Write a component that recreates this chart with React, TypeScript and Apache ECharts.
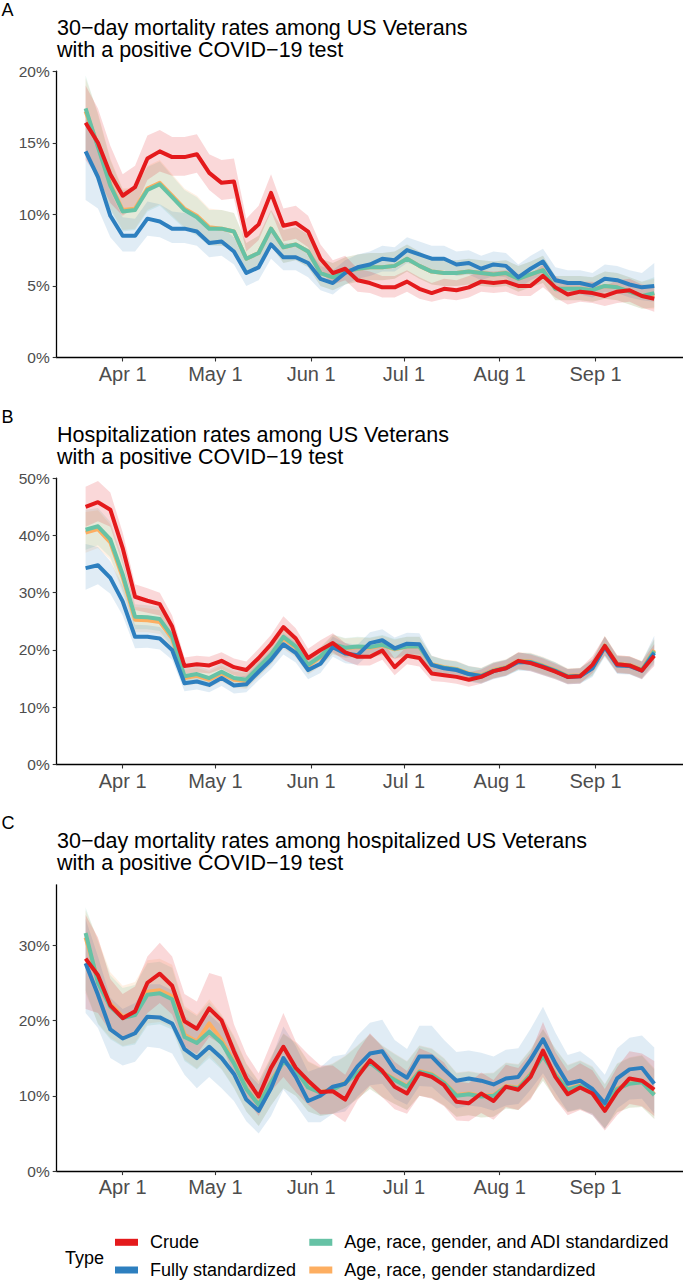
import React, { useEffect, useRef } from "react";
import * as echarts from "echarts";

// ---------- data ----------
const dates = [
  "2020-03-20", "2020-03-24", "2020-03-28", "2020-04-01", "2020-04-05", "2020-04-09", "2020-04-13", "2020-04-17",
  "2020-04-21", "2020-04-25", "2020-04-29", "2020-05-03", "2020-05-07", "2020-05-11", "2020-05-15", "2020-05-19",
  "2020-05-23", "2020-05-27", "2020-05-31", "2020-06-04", "2020-06-08", "2020-06-12", "2020-06-16", "2020-06-20",
  "2020-06-24", "2020-06-28", "2020-07-02", "2020-07-06", "2020-07-10", "2020-07-14", "2020-07-18", "2020-07-22",
  "2020-07-26", "2020-07-30", "2020-08-03", "2020-08-07", "2020-08-11", "2020-08-15", "2020-08-19", "2020-08-23",
  "2020-08-27", "2020-08-31", "2020-09-04", "2020-09-08", "2020-09-12", "2020-09-16", "2020-09-20",
];

const xTickDates = ["2020-04-01", "2020-05-01", "2020-06-01", "2020-07-01", "2020-08-01", "2020-09-01"];
const xTickLabels = ["Apr 1", "May 1", "Jun 1", "Jul 1", "Aug 1", "Sep 1"];
const yTicksA = [0, 5, 10, 15, 20];
const yTicksB = [0, 10, 20, 30, 40, 50];
const yTicksC = [0, 10, 20, 30];
const yMaxes = [20, 50, 38];

const seriesNames = [
  "Crude",
  "Fully standardized",
  "Age, race, gender, and ADI standardized",
  "Age, race, gender standardized",
];
const panelLetters = ["A", "B", "C"];
const panelTitles = [
  "30\u2212day mortality rates among US Veterans\nwith a positive COVID\u221219 test",
  "Hospitalization rates among US Veterans\nwith a positive COVID\u221219 test",
  "30\u2212day mortality rates among hospitalized US Veterans\nwith a positive COVID\u221219 test",
];
const legendTitle = "Type";

// Panel A (percent)
const aCrude = [16.4, 15.0, 12.8, 11.3, 11.9, 13.9, 14.4, 14.0, 14.0, 14.2, 12.9, 12.2, 12.3, 8.5, 9.3, 11.5, 9.2, 9.4, 8.8, 6.9, 5.9, 6.2, 5.4, 5.2, 4.9, 4.9, 5.3, 4.8, 4.5, 4.8, 4.7, 4.9, 5.3, 5.2, 5.3, 5.0, 5.0, 5.7, 4.9, 4.4, 4.6, 4.5, 4.3, 4.6, 4.7, 4.3, 4.1];
const aCrudeLo = [13.8, 12.6, 10.8, 9.9, 10.5, 12.4, 13.0, 12.7, 12.7, 12.9, 11.7, 11.0, 11.1, 7.4, 8.2, 10.2, 8.1, 8.3, 7.7, 6.0, 5.1, 5.4, 4.6, 4.5, 4.2, 4.2, 4.6, 4.1, 3.9, 4.1, 4.0, 4.2, 4.6, 4.5, 4.6, 4.3, 4.3, 4.9, 4.2, 3.7, 3.9, 3.8, 3.6, 3.8, 3.9, 3.5, 3.2];
const aCrudeHi = [19.0, 17.4, 14.8, 12.8, 13.4, 15.5, 15.9, 15.4, 15.4, 15.6, 14.2, 13.8, 13.9, 9.7, 10.6, 12.8, 10.4, 10.6, 9.9, 7.9, 6.8, 7.1, 6.2, 6.0, 5.7, 5.7, 6.1, 5.6, 5.2, 5.5, 5.4, 5.7, 6.1, 6.0, 6.1, 5.8, 5.8, 6.5, 5.7, 5.1, 5.3, 5.3, 5.0, 5.4, 5.5, 5.1, 5.0];
const aFully = [14.4, 12.6, 9.9, 8.5, 8.5, 9.7, 9.5, 9.0, 9.0, 8.8, 8.0, 8.1, 7.4, 5.9, 6.3, 7.9, 7.0, 7.0, 6.6, 5.5, 5.2, 5.9, 6.3, 6.5, 6.9, 6.8, 7.5, 7.2, 6.9, 6.9, 6.5, 6.6, 6.2, 6.5, 6.4, 5.6, 6.2, 6.7, 5.4, 5.2, 5.2, 5.0, 5.5, 5.4, 5.1, 4.9, 5.0];
const aFullyLo = [11.0, 10.4, 8.4, 7.4, 7.4, 8.5, 8.4, 8.0, 8.0, 7.8, 7.0, 7.1, 6.5, 5.0, 5.4, 6.9, 6.1, 6.1, 5.6, 4.7, 4.4, 5.1, 5.5, 5.7, 6.0, 6.0, 6.6, 6.4, 6.1, 6.1, 5.7, 5.8, 5.4, 5.7, 5.6, 4.8, 5.4, 5.8, 4.6, 4.4, 4.4, 4.2, 4.6, 4.5, 4.2, 4.0, 3.9];
const aFullyHi = [17.0, 14.6, 11.6, 9.8, 9.7, 10.9, 10.7, 10.2, 10.1, 9.9, 9.0, 9.1, 8.4, 6.9, 7.3, 8.9, 8.0, 8.0, 7.6, 6.4, 6.1, 6.8, 7.2, 7.4, 7.8, 7.7, 8.4, 8.1, 7.8, 7.8, 7.4, 7.5, 7.1, 7.4, 7.3, 6.5, 7.1, 7.6, 6.3, 6.1, 6.1, 5.9, 6.5, 6.4, 6.1, 5.9, 6.6];
const aAdi = [17.4, 14.7, 12.0, 10.2, 10.3, 11.7, 12.1, 11.2, 10.3, 9.8, 9.0, 9.0, 8.8, 6.9, 7.3, 9.0, 7.7, 7.9, 7.4, 5.9, 5.6, 6.0, 6.2, 6.3, 6.3, 6.4, 6.9, 6.4, 6.0, 5.9, 5.9, 6.0, 5.9, 5.8, 5.9, 5.5, 5.8, 6.1, 4.8, 4.8, 4.8, 4.7, 5.0, 4.9, 4.6, 4.3, 4.5];
const aAdiLo = [14.5, 12.7, 10.3, 8.8, 8.9, 10.2, 10.6, 9.8, 9.0, 8.5, 7.8, 7.8, 7.6, 5.8, 6.2, 7.8, 6.6, 6.8, 6.3, 5.0, 4.7, 5.1, 5.3, 5.4, 5.4, 5.5, 6.0, 5.5, 5.1, 5.0, 5.0, 5.1, 5.0, 4.9, 5.0, 4.6, 4.9, 5.2, 4.0, 4.0, 4.0, 3.9, 4.1, 4.0, 3.7, 3.4, 3.5];
const aAdiHi = [19.7, 17.0, 13.8, 11.7, 11.8, 13.3, 13.7, 12.7, 11.7, 11.2, 10.3, 10.3, 10.1, 8.0, 8.5, 10.3, 8.9, 9.1, 8.6, 6.9, 6.6, 7.0, 7.2, 7.3, 7.3, 7.4, 7.9, 7.4, 6.9, 6.8, 6.8, 6.9, 6.8, 6.7, 6.8, 6.4, 6.7, 7.1, 5.7, 5.7, 5.7, 5.6, 6.0, 5.9, 5.6, 5.3, 5.6];
const aArg = [17.2, 14.8, 12.1, 10.3, 10.4, 11.8, 12.2, 11.3, 10.4, 9.9, 9.1, 9.0, 8.8, 6.9, 7.3, 9.0, 7.7, 7.9, 7.4, 5.9, 5.6, 6.0, 6.2, 6.3, 6.3, 6.4, 6.9, 6.4, 6.0, 5.9, 5.9, 6.0, 5.9, 5.8, 5.9, 5.5, 5.8, 6.1, 4.8, 4.8, 4.8, 4.7, 5.0, 4.9, 4.6, 4.3, 4.4];
const aArgLo = [14.3, 12.8, 10.4, 8.9, 9.0, 10.3, 10.7, 9.9, 9.1, 8.6, 7.9, 7.8, 7.6, 5.8, 6.2, 7.8, 6.6, 6.8, 6.3, 5.0, 4.7, 5.1, 5.3, 5.4, 5.4, 5.5, 6.0, 5.5, 5.1, 5.0, 5.0, 5.1, 5.0, 4.9, 5.0, 4.6, 4.9, 5.2, 4.0, 4.0, 4.0, 3.9, 4.1, 4.0, 3.7, 3.4, 3.4];
const aArgHi = [19.5, 17.1, 13.9, 11.8, 11.9, 13.4, 13.8, 12.8, 11.8, 11.3, 10.4, 10.3, 10.1, 8.0, 8.5, 10.3, 8.9, 9.1, 8.6, 6.9, 6.6, 7.0, 7.2, 7.3, 7.3, 7.4, 7.9, 7.4, 6.9, 6.8, 6.8, 6.9, 6.8, 6.7, 6.8, 6.4, 6.7, 7.1, 5.7, 5.7, 5.7, 5.6, 6.0, 5.9, 5.6, 5.3, 5.5];

// Panel B (percent)
const bCrude = [45.0, 45.8, 44.5, 37.8, 29.3, 28.6, 28.0, 24.1, 17.2, 17.5, 17.3, 18.1, 17.0, 16.5, 18.6, 21.0, 24.0, 22.0, 18.6, 20.0, 21.2, 19.6, 18.8, 18.8, 19.9, 17.0, 19.0, 18.6, 15.9, 15.6, 15.3, 14.8, 15.3, 16.3, 16.8, 18.1, 17.7, 17.0, 16.2, 15.3, 15.4, 17.4, 20.7, 17.5, 17.3, 16.4, 19.0];
const bCrudeLo = [41.5, 42.5, 41.5, 35.0, 27.0, 26.5, 26.0, 22.3, 15.8, 16.1, 15.9, 16.7, 15.6, 15.1, 17.1, 19.4, 22.2, 20.3, 17.1, 18.4, 19.6, 18.1, 17.3, 17.3, 18.3, 15.6, 17.5, 17.1, 14.6, 14.4, 14.1, 13.6, 14.1, 15.0, 15.5, 16.7, 16.3, 15.6, 14.9, 14.0, 14.1, 16.0, 19.1, 16.0, 15.8, 14.9, 17.2];
const bCrudeHi = [48.5, 49.5, 47.5, 40.5, 31.5, 30.8, 30.0, 26.0, 18.7, 19.0, 18.8, 19.6, 18.5, 18.0, 20.2, 22.6, 25.9, 23.8, 20.2, 21.7, 22.9, 21.2, 20.4, 20.4, 21.6, 18.5, 20.6, 20.2, 17.3, 16.9, 16.6, 16.1, 16.6, 17.7, 18.2, 19.6, 19.2, 18.5, 17.6, 16.7, 16.8, 18.9, 22.4, 19.1, 18.9, 18.0, 21.0];
const bFully = [34.3, 34.8, 32.6, 28.5, 22.3, 22.3, 22.0, 20.0, 14.2, 14.5, 13.9, 15.1, 13.8, 14.0, 16.2, 18.3, 21.0, 19.5, 16.5, 17.6, 20.5, 19.4, 19.1, 21.2, 21.7, 20.3, 21.1, 21.0, 17.4, 16.8, 16.5, 15.8, 15.4, 16.3, 16.8, 17.9, 17.8, 17.1, 16.3, 15.3, 15.4, 16.8, 20.5, 17.3, 17.2, 16.4, 19.5];
const bFullyLo = [30.5, 31.5, 29.8, 26.0, 20.3, 20.4, 20.1, 18.3, 12.8, 13.1, 12.6, 13.7, 12.4, 12.6, 14.7, 16.7, 19.2, 17.8, 14.9, 16.0, 18.8, 17.7, 17.4, 19.4, 19.8, 18.5, 19.3, 19.2, 15.9, 15.4, 15.1, 14.5, 14.1, 14.9, 15.4, 16.4, 16.3, 15.6, 14.9, 14.0, 14.1, 15.3, 18.8, 15.8, 15.7, 14.9, 17.5];
const bFullyHi = [38.5, 38.0, 35.5, 31.2, 24.4, 24.3, 24.0, 21.8, 15.7, 16.0, 15.3, 16.6, 15.3, 15.5, 17.8, 20.0, 22.9, 21.3, 18.2, 19.3, 22.3, 21.2, 20.9, 23.1, 23.6, 22.2, 23.0, 22.9, 19.0, 18.3, 18.0, 17.2, 16.8, 17.8, 18.3, 19.5, 19.4, 18.7, 17.8, 16.7, 16.8, 18.4, 22.3, 18.9, 18.8, 18.0, 22.5];
const bAdi = [41.0, 41.6, 39.3, 33.2, 25.8, 25.7, 25.4, 22.4, 15.4, 15.8, 15.1, 16.2, 15.1, 14.8, 17.0, 19.2, 22.3, 20.6, 17.4, 18.9, 21.0, 20.4, 20.6, 20.5, 20.9, 20.2, 20.6, 20.6, 17.4, 16.9, 16.6, 15.8, 15.5, 16.4, 16.9, 18.0, 17.9, 17.2, 16.4, 15.4, 15.5, 16.9, 20.7, 17.5, 17.3, 16.5, 19.8];
const bAdiLo = [37.5, 38.3, 36.2, 30.5, 23.6, 23.6, 23.3, 20.5, 14.0, 14.4, 13.7, 14.8, 13.7, 13.4, 15.5, 17.6, 20.5, 18.9, 15.9, 17.3, 19.3, 18.7, 18.9, 18.8, 19.2, 18.5, 18.9, 18.9, 15.9, 15.5, 15.2, 14.5, 14.2, 15.0, 15.5, 16.5, 16.4, 15.7, 15.0, 14.1, 14.2, 15.5, 19.0, 16.0, 15.8, 15.0, 17.8];
const bAdiHi = [44.5, 44.8, 42.4, 36.0, 28.0, 27.8, 27.5, 24.3, 16.9, 17.3, 16.5, 17.7, 16.5, 16.2, 18.5, 20.8, 24.1, 22.3, 18.9, 20.5, 22.7, 22.1, 22.3, 22.2, 22.6, 21.9, 22.3, 22.3, 18.9, 18.3, 18.0, 17.1, 16.8, 17.8, 18.3, 19.5, 19.4, 18.7, 17.8, 16.7, 16.8, 18.3, 22.4, 19.0, 18.8, 18.0, 21.8];
const bArg = [40.5, 41.1, 38.8, 32.7, 25.3, 25.2, 24.9, 22.0, 15.1, 15.5, 14.8, 15.9, 14.8, 14.6, 16.8, 19.0, 22.0, 20.4, 17.2, 18.7, 20.9, 20.3, 20.5, 20.4, 20.8, 20.1, 20.6, 20.6, 17.5, 17.0, 16.7, 15.9, 15.6, 16.5, 17.0, 18.1, 18.0, 17.3, 16.5, 15.5, 15.6, 17.0, 20.8, 17.6, 17.4, 16.6, 20.0];
const bArgLo = [37.0, 37.8, 35.7, 30.0, 23.1, 23.1, 22.8, 20.1, 13.7, 14.1, 13.4, 14.5, 13.4, 13.2, 15.3, 17.4, 20.2, 18.7, 15.7, 17.1, 19.2, 18.6, 18.8, 18.7, 19.1, 18.4, 18.9, 18.9, 16.0, 15.6, 15.3, 14.6, 14.3, 15.1, 15.6, 16.6, 16.5, 15.8, 15.1, 14.2, 14.3, 15.6, 19.1, 16.1, 15.9, 15.1, 18.0];
const bArgHi = [44.1, 44.4, 41.9, 35.4, 27.5, 27.3, 27.0, 23.9, 16.5, 16.9, 16.2, 17.3, 16.2, 16.0, 18.3, 20.6, 23.8, 22.1, 18.7, 20.3, 22.6, 22.0, 22.2, 22.1, 22.5, 21.8, 22.3, 22.3, 19.0, 18.4, 18.1, 17.2, 16.9, 17.9, 18.4, 19.6, 19.5, 18.8, 17.9, 16.8, 16.9, 18.4, 22.5, 19.1, 18.9, 18.1, 22.0];

// Panel C (percent)
const cCrude = [28.2, 26.0, 22.0, 20.3, 21.2, 25.0, 26.2, 24.6, 19.9, 18.9, 21.6, 20.0, 15.9, 12.3, 9.9, 13.7, 16.5, 13.7, 12.0, 10.5, 10.6, 9.5, 12.5, 14.7, 13.3, 11.2, 10.3, 13.0, 12.5, 11.4, 9.2, 9.0, 10.3, 9.3, 11.2, 10.8, 12.5, 16.0, 12.5, 10.2, 11.1, 10.3, 8.0, 10.5, 12.3, 12.0, 10.8];
const cCrudeLo = [21.5, 21.0, 18.5, 17.5, 18.0, 21.0, 22.3, 20.8, 16.5, 15.5, 17.8, 16.8, 12.8, 9.5, 7.3, 10.6, 12.5, 10.5, 8.8, 7.5, 7.6, 6.5, 9.4, 11.3, 9.8, 8.2, 7.6, 10.0, 9.6, 8.6, 6.7, 6.6, 7.7, 6.8, 8.5, 8.1, 9.5, 12.5, 9.5, 7.4, 8.1, 7.4, 5.4, 7.4, 8.9, 8.6, 7.3];
const cCrudeHi = [34.0, 31.0, 25.5, 23.5, 24.5, 28.5, 30.3, 28.5, 23.5, 22.5, 26.3, 25.8, 19.5, 15.5, 13.0, 17.0, 21.0, 17.2, 15.5, 14.0, 14.0, 12.8, 15.9, 18.3, 16.5, 14.5, 13.3, 16.3, 15.6, 14.4, 11.9, 11.7, 13.1, 12.1, 14.1, 13.7, 15.7, 19.8, 15.8, 13.3, 14.3, 13.4, 10.9, 13.8, 15.9, 15.6, 14.6];
const cFully = [27.6, 23.4, 18.8, 17.6, 18.3, 20.5, 20.4, 19.6, 16.2, 15.0, 16.5, 15.0, 12.9, 9.5, 8.0, 11.0, 15.0, 12.5, 9.3, 10.0, 11.2, 11.6, 13.9, 15.6, 15.9, 13.4, 12.4, 15.2, 15.2, 13.5, 12.0, 12.3, 12.0, 11.5, 12.3, 12.5, 14.8, 17.5, 14.3, 11.6, 12.0, 10.9, 9.0, 12.3, 13.5, 13.7, 11.6];
const cFullyLo = [21.0, 19.0, 15.0, 14.0, 14.5, 16.5, 16.3, 15.6, 12.8, 11.0, 12.5, 11.0, 9.3, 6.6, 5.0, 7.3, 10.8, 8.8, 6.5, 6.5, 7.6, 7.9, 9.9, 11.4, 11.6, 9.6, 8.8, 11.3, 11.2, 9.7, 8.3, 8.7, 8.5, 8.0, 8.7, 8.9, 10.8, 13.0, 10.4, 7.9, 8.3, 7.4, 5.6, 8.3, 9.5, 9.6, 7.6];
const cFullyHi = [33.5, 28.5, 23.0, 21.5, 22.3, 24.8, 24.8, 24.0, 20.6, 19.0, 20.8, 19.3, 16.8, 13.2, 11.5, 14.8, 19.2, 16.6, 13.2, 13.8, 15.2, 15.5, 18.0, 19.7, 20.1, 17.4, 16.2, 19.3, 19.3, 17.4, 15.8, 16.0, 15.7, 15.2, 16.1, 16.3, 18.9, 21.8, 18.4, 15.4, 15.9, 14.7, 12.8, 16.3, 17.7, 18.0, 16.4];
const cAdi = [31.6, 25.0, 21.8, 20.3, 20.7, 23.4, 23.6, 22.8, 17.8, 17.0, 18.5, 17.0, 14.3, 10.9, 8.8, 11.8, 14.5, 13.4, 11.1, 10.4, 10.8, 11.7, 13.0, 14.4, 13.1, 12.1, 11.2, 13.2, 12.8, 11.7, 10.0, 10.2, 9.9, 10.0, 11.2, 11.0, 12.8, 15.3, 12.8, 10.8, 11.3, 10.6, 8.5, 10.9, 11.6, 11.8, 10.1];
const cAdiLo = [24.0, 19.5, 17.5, 16.5, 16.8, 19.3, 19.5, 18.8, 14.6, 13.5, 15.0, 13.5, 11.0, 7.9, 6.0, 8.7, 11.0, 10.0, 7.9, 7.3, 7.6, 8.4, 9.6, 10.9, 9.8, 8.9, 8.1, 10.0, 9.7, 8.7, 7.2, 7.4, 7.1, 7.2, 8.3, 8.1, 9.7, 12.0, 9.6, 7.8, 8.2, 7.6, 5.7, 7.8, 8.4, 8.5, 6.9];
const cAdiHi = [35.0, 30.5, 26.0, 24.3, 24.7, 27.6, 27.8, 27.0, 21.6, 20.6, 22.4, 20.6, 17.8, 14.2, 11.9, 15.1, 18.2, 17.0, 14.5, 13.7, 14.2, 15.2, 16.6, 18.1, 16.6, 15.5, 14.5, 16.6, 16.2, 14.9, 13.0, 13.2, 12.9, 13.0, 14.3, 14.1, 16.1, 18.8, 16.2, 14.0, 14.6, 13.8, 11.5, 14.2, 15.0, 15.3, 13.5];
const cArg = [31.0, 25.3, 22.2, 20.5, 21.0, 23.8, 24.0, 23.2, 18.1, 17.2, 19.6, 17.4, 14.5, 11.0, 8.9, 11.9, 14.6, 13.5, 11.2, 10.5, 10.9, 11.8, 13.1, 14.5, 13.2, 12.2, 11.3, 13.3, 12.9, 11.8, 10.1, 10.3, 10.0, 10.1, 11.3, 11.1, 12.9, 15.4, 12.9, 10.9, 11.4, 10.7, 8.6, 11.0, 11.7, 11.9, 10.2];
const cArgLo = [23.6, 19.6, 17.7, 16.6, 17.0, 19.6, 19.8, 19.1, 14.8, 13.6, 15.4, 13.6, 11.1, 7.9, 6.0, 8.7, 11.0, 10.0, 7.9, 7.3, 7.6, 8.4, 9.6, 10.9, 9.8, 8.9, 8.1, 10.0, 9.7, 8.7, 7.2, 7.4, 7.1, 7.2, 8.3, 8.1, 9.7, 12.0, 9.6, 7.8, 8.2, 7.6, 5.7, 7.8, 8.4, 8.5, 6.9];
const cArgHi = [34.6, 30.8, 26.4, 24.6, 25.1, 28.0, 28.2, 27.4, 21.9, 20.8, 22.8, 20.8, 18.0, 14.3, 12.0, 15.2, 18.3, 17.1, 14.6, 13.8, 14.3, 15.3, 16.7, 18.2, 16.7, 15.6, 14.6, 16.7, 16.3, 15.0, 13.1, 13.3, 13.0, 13.1, 14.4, 14.2, 16.2, 18.9, 16.3, 14.1, 14.7, 13.9, 11.6, 14.3, 15.1, 15.4, 13.7];

// ---------- styling / layout ----------
const FONT = '"Liberation Sans", Arial, Helvetica, sans-serif';
const lineColors = ["#E41A1C", "#2D7FBF", "#66C2A5", "#FDAE61"];
const bandColors = [
  "rgba(228,26,28,0.17)",
  "rgba(45,127,191,0.15)",
  "rgba(102,194,165,0.17)",
  "rgba(253,174,97,0.17)",
];
const GRID_LEFT = 56.7;
const GRID_TOPS = [71.2, 478.2, 884.8];
const GRID_H = 286.3;
const DAY = 86400000;
const X_MIN = Date.parse("2020-04-01") - 21.35 * DAY;
const X_MAX = Date.parse("2020-04-01") + 181.3 * DAY;

const ts = dates.map((d) => Date.parse(d));
const xTickValues = xTickDates.map((d) => Date.parse(d));

const panels = [
  { lines: [aCrude, aFully, aAdi, aArg], lo: [aCrudeLo, aFullyLo, aAdiLo, aArgLo], hi: [aCrudeHi, aFullyHi, aAdiHi, aArgHi], yTicks: yTicksA },
  { lines: [bCrude, bFully, bAdi, bArg], lo: [bCrudeLo, bFullyLo, bAdiLo, bArgLo], hi: [bCrudeHi, bFullyHi, bAdiHi, bArgHi], yTicks: yTicksB },
  { lines: [cCrude, cFully, cAdi, cArg], lo: [cCrudeLo, cFullyLo, cAdiLo, cArgLo], hi: [cCrudeHi, cFullyHi, cAdiHi, cArgHi], yTicks: yTicksC },
];

function bandSeries(lo: number[], hi: number[], color: string, idx: number) {
  return {
    type: "custom",
    xAxisIndex: idx,
    yAxisIndex: idx,
    silent: true,
    clip: true,
    z: 1,
    data: [[ts[0], lo[0]]],
    renderItem: (_params: any, api: any) => {
      const pts: number[][] = [];
      for (let i = 0; i < ts.length; i++) pts.push(api.coord([ts[i], hi[i]]));
      for (let i = ts.length - 1; i >= 0; i--) pts.push(api.coord([ts[i], lo[i]]));
      return { type: "polygon", shape: { points: pts }, style: { fill: color } };
    },
  };
}

function lineSeries(vals: number[], s: number, idx: number) {
  return {
    type: "line",
    name: seriesNames[s],
    xAxisIndex: idx,
    yAxisIndex: idx,
    data: ts.map((t, i) => [t, vals[i]]),
    showSymbol: false,
    symbol: "none",
    silent: true,
    clip: true,
    z: 2,
    lineStyle: { color: lineColors[s], width: 4, join: "round" },
    itemStyle: { color: lineColors[s] },
  };
}

function buildOption() {
  const grid: any[] = [];
  const xAxis: any[] = [];
  const yAxis: any[] = [];
  const series: any[] = [];
  const graphic: any[] = [];
  const drawOrder = [3, 2, 1, 0];

  panels.forEach((p, idx) => {
    const top = GRID_TOPS[idx];
    grid.push({ left: GRID_LEFT, right: 0, top, height: GRID_H, containLabel: false });
    xAxis.push({
      type: "value",
      gridIndex: idx,
      min: X_MIN,
      max: X_MAX,
      axisLine: { show: true, onZero: false, lineStyle: { color: "#000", width: 1.3 } },
      axisTick: { show: true, length: 4, customValues: xTickValues, lineStyle: { color: "#333", width: 1.1 } },
      axisLabel: {
        show: true,
        customValues: xTickValues,
        margin: 6,
        fontSize: 20,
        fontFamily: FONT,
        color: "#4D4D4D",
        formatter: (v: number) => {
          const i = xTickValues.findIndex((t) => Math.abs(t - v) < 1000);
          return i >= 0 ? xTickLabels[i] : "";
        },
      },
      splitLine: { show: false },
    });
    yAxis.push({
      type: "value",
      gridIndex: idx,
      min: 0,
      max: yMaxes[idx],
      axisLine: { show: true, onZero: false, lineStyle: { color: "#000", width: 1.3 } },
      axisTick: { show: true, length: 4, customValues: p.yTicks, lineStyle: { color: "#333", width: 1.1 } },
      axisLabel: {
        show: true,
        customValues: p.yTicks,
        margin: 7,
        fontSize: 15.5,
        fontFamily: FONT,
        color: "#4D4D4D",
        formatter: "{value}%",
      },
      splitLine: { show: false },
    });
    drawOrder.forEach((s) => series.push(bandSeries(p.lo[s], p.hi[s], bandColors[s], idx)));
    drawOrder.forEach((s) => series.push(lineSeries(p.lines[s], s, idx)));

    graphic.push({
      type: "text",
      x: 1.5,
      y: top - 70.4,
      style: { text: panelLetters[idx], fontSize: 18, fontFamily: FONT, fill: "#000", lineHeight: 18, verticalAlign: "top" },
    });
    graphic.push({
      type: "text",
      x: 57,
      y: top - 54.6,
      style: { text: panelTitles[idx], fontSize: 21.5, fontFamily: FONT, fill: "#000", lineHeight: 22, verticalAlign: "top" },
    });
  });

  graphic.push({
    type: "text",
    x: 65,
    y: 1258,
    style: { text: legendTitle, fontSize: 18, fontFamily: FONT, fill: "#000", verticalAlign: "middle" },
  });

  const legendBase = {
    orient: "vertical",
    top: 1231.8,
    itemWidth: 23,
    itemHeight: 7,
    itemGap: 6.7,
    icon: "rect",
    selectedMode: false,
    padding: 0,
    itemStyle: { borderWidth: 0 },
    textStyle: { fontSize: 18, color: "#000", fontFamily: FONT, lineHeight: 21, padding: [0, 0, 0, 7] },
  };

  return {
    animation: false,
    backgroundColor: "#ffffff",
    grid,
    xAxis,
    yAxis,
    series,
    graphic,
    legend: [
      { ...legendBase, left: 115, data: [seriesNames[0], seriesNames[1]] },
      { ...legendBase, left: 309.3, data: [seriesNames[2], seriesNames[3]] },
    ],
  };
}

export default function App() {
  const ref = useRef<HTMLDivElement>(null);
  useEffect(() => {
    if (!ref.current) return;
    const chart = echarts.init(ref.current, undefined, { renderer: "svg" });
    chart.setOption(buildOption() as any);
    return () => chart.dispose();
  }, []);
  return (
    <div
      ref={ref}
      style={{ position: "absolute", left: 0, top: 0, width: 683, height: 1281, background: "#fff" }}
    />
  );
}
